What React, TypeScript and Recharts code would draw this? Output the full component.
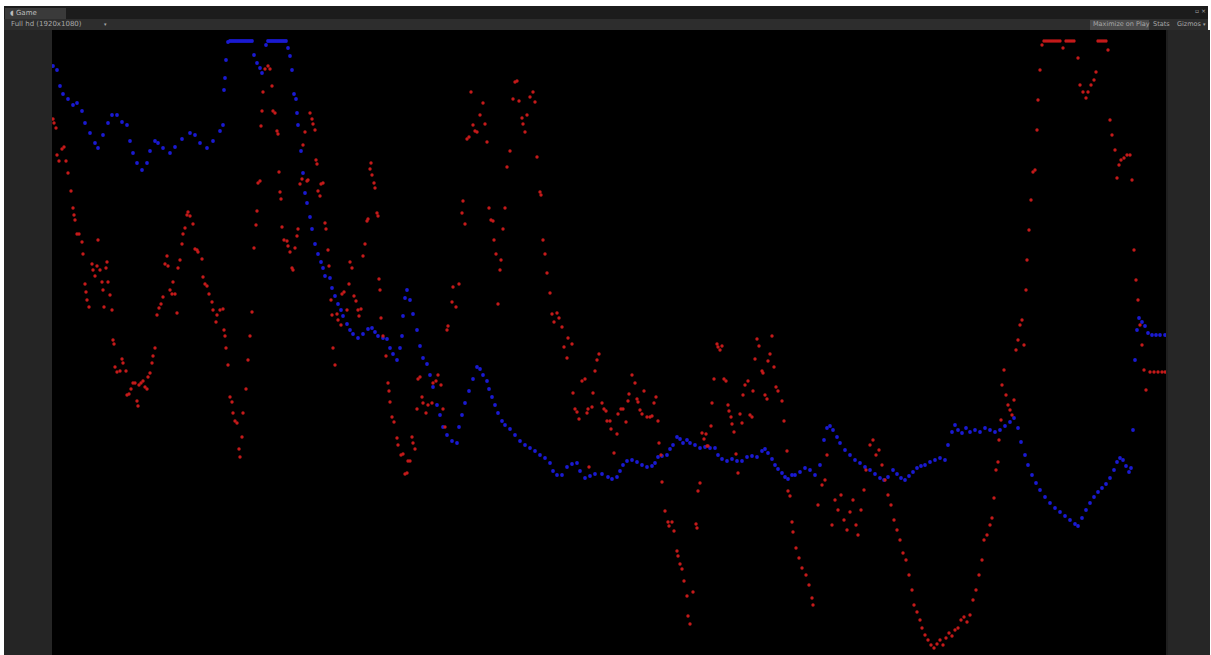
import { ScatterChart, Scatter, XAxis, YAxis } from 'recharts'

// frame index along the capture, value = height of the sample (0 = bottom of view)
const blueFrames = [
  1, 5, 8, 11, 16, 21, 25, 30, 33, 38, 43, 46, 51, 56, 60, 65, 70, 75, 78, 81,
  85, 90, 95, 98, 103, 106, 111, 118, 123, 130, 138, 143, 148, 155, 161, 168, 171, 172, 173, 174,
  176, 178, 180, 182, 184, 186, 188, 190, 192, 194, 196, 198, 200, 202, 205, 208, 210, 214, 216, 218,
  220, 222, 224, 226, 228, 230, 232, 234, 236, 238,
  240, 242, 244, 245, 246, 249, 251, 253, 255, 258, 260, 263, 266, 269, 271, 273, 278, 280, 283, 286,
  289, 291, 295, 298, 301, 306, 311, 316, 320, 323, 326, 331, 335, 338, 341, 345, 348, 350, 351, 353,
  355, 358, 361, 365, 368, 371, 375, 378, 381, 385, 388, 391, 395, 400, 405, 407, 410, 413, 417, 421,
  425, 428, 431, 435, 437, 440, 443, 446, 450, 453, 458, 463, 468, 473, 478, 483, 488, 493, 498, 501,
  505, 510, 515, 520, 525, 528, 533, 538, 543, 550, 556, 560, 565, 568, 571, 575, 580, 585, 590, 595,
  600, 603, 606, 610, 615, 618, 621, 625, 628, 631, 635, 638, 643, 648, 653, 658, 663, 666, 670, 675,
  680, 685, 690, 695, 700, 705, 710, 713, 716, 720, 723, 726, 730, 733, 736, 740, 743, 748, 753, 758,
  763, 768, 772, 775, 778, 781, 785, 788, 793, 798, 803, 808, 813, 818, 823, 828, 832, 836, 841, 845,
  849, 853, 857, 861, 865, 869, 873, 878, 883, 888, 893, 896, 900, 903, 906, 910, 914, 918, 923, 928,
  933, 938, 943, 948, 953, 958, 962, 966, 969, 973, 976, 980, 984, 988, 993, 998, 1003, 1008, 1013, 1018,
  1023, 1026, 1030, 1034, 1038, 1042, 1046, 1050, 1054, 1058, 1062, 1065, 1068, 1071, 1074, 1077, 1079, 1081, 1083, 1085,
  1087, 1090, 1093, 1096, 1100, 1104, 1108, 1113,
]
const blueValues = [
  589, 585, 569, 561, 556, 550, 552, 544, 532, 522, 512, 507, 520, 532, 540, 540, 533, 530, 514, 502,
  492, 485, 492, 504, 514, 512, 507, 502, 508, 516, 522, 520, 512, 507, 514, 524, 530, 565, 577, 595,
  613, 614, 614, 614, 614, 614, 614, 614, 614, 614, 614, 614, 614, 600, 592, 587, 582, 610, 614, 614,
  614, 614, 614, 614, 614, 614, 614, 614, 607, 599,
  585, 561, 556, 542, 530, 504, 482, 462, 452, 438, 426, 411, 401, 393, 387, 379, 377, 367, 359, 351,
  345, 339, 331, 325, 321, 317, 321, 326, 327, 323, 319, 317, 316, 307, 301, 295, 307, 319, 339, 357,
  365, 355, 341, 325, 309, 297, 291, 280, 268, 250, 240, 228, 220, 214, 212, 228, 240, 252, 264, 276,
  288, 286, 280, 274, 266, 258, 250, 242, 234, 230, 226, 220, 214, 210, 207, 204, 200, 197, 192, 184,
  180, 180, 188, 191, 192, 184, 177, 179, 181, 181, 178, 176, 178, 184, 190, 194, 195, 193, 190, 188,
  189, 192, 198, 199, 200, 206, 210, 218, 216, 212, 215, 212, 210, 207, 208, 207, 207, 200, 196, 194,
  196, 194, 194, 198, 199, 198, 204, 206, 202, 196, 190, 186, 182, 178, 176, 180, 180, 183, 187, 185,
  180, 190, 215, 227, 229, 225, 218, 212, 205, 200, 195, 192, 188, 185, 181, 177, 175, 178, 185, 181,
  177, 175, 179, 183, 187, 189, 190, 193, 195, 197, 195, 210, 223, 230, 225, 222, 227, 223, 225, 223,
  227, 225, 223, 225, 229, 233, 237, 227, 213, 200, 190, 180, 172, 165, 158, 152, 147, 143, 139, 135,
  131, 129, 137, 145, 152, 158, 163, 167, 171, 177, 185, 193, 197, 195, 189, 183, 187, 225, 295, 325,
  337, 333, 329, 322, 320, 320, 320, 320,
]

const redFrames = [
  1, 2, 4, 5, 7, 10, 12, 14, 16, 19, 21, 22, 23, 25, 27, 30, 31, 33, 34, 35,
  37, 40, 41, 43, 45, 46, 48, 50, 51, 52, 54, 55, 56, 58, 60, 61, 62, 63, 65, 68,
  70, 71, 74, 75, 77, 79, 81, 83, 85, 86, 87, 89, 91, 93, 95, 96, 98, 100, 101, 103,
  105, 107, 109, 111, 113, 115, 116, 118, 120, 121, 123, 125, 126, 128, 130, 131, 133, 135, 136, 138,
  141, 143, 145, 146, 150, 151, 153, 155, 157, 160, 161, 164, 165, 168, 171, 172, 173, 174, 176, 178,
  180, 181, 183, 185, 187, 188, 190, 191, 194, 196, 198, 200, 202, 204, 205, 206, 208, 209, 210, 211,
  213, 216, 218, 220, 221, 223, 225, 226, 227, 228, 229, 230, 232, 235, 236, 238, 240, 241, 243, 245,
  246, 248, 250, 251, 253, 255, 256, 258, 260, 261, 263, 264, 265, 266, 268, 269, 271, 273, 274, 276,
  277, 279, 280, 281, 283, 285, 286, 289, 290, 292, 295, 297, 298, 300, 302, 304, 306, 307, 309, 311,
  313, 315, 316, 318, 319, 320, 322, 323, 325, 326, 327, 328, 329, 331, 334, 336, 337, 338, 340, 342,
  345, 346, 349, 351, 353, 355, 356, 358, 360, 361, 363, 365, 366, 368, 370, 371, 374, 376, 380, 381,
  384, 386, 389, 391, 393, 395, 396, 400, 401, 404, 407, 410, 411, 413, 415, 417, 419, 421, 423, 425,
  428, 431, 433, 435, 437, 439, 441, 442, 444, 446, 448, 449, 451, 453, 455, 458, 461, 463, 465, 467,
  470, 471, 473, 475, 478, 481, 483, 485, 488, 489, 491, 493, 495, 498, 500, 502, 505, 507, 510, 512,
  515, 516, 520, 521, 523, 525, 527, 530, 533, 535, 536, 537, 540, 541, 543, 545, 547, 550, 552, 554,
  555, 558, 559, 562, 565, 566, 569, 571, 574, 576, 577, 580, 583, 585, 586, 588, 590, 592, 595, 598,
  600, 602, 604, 606, 607, 609, 610, 613, 616, 617, 620, 622, 625, 626, 628, 630, 632, 635, 636, 638,
  641, 644, 645, 646, 648, 650, 652, 654, 655, 656, 659, 660, 662, 665, 666, 668, 670, 672, 674, 676,
  677, 679, 680, 682, 684, 686, 688, 690, 691, 693, 696, 698, 700, 701, 703, 705, 707, 710, 711, 713,
  715, 716, 718, 720, 722, 724, 726, 730, 732, 735, 736, 738, 740, 741, 744, 747, 750, 754, 757, 760,
  761, 766, 770, 773, 775, 780, 783, 786, 789, 792, 795, 798, 801, 804, 806, 809, 812, 814, 818, 821,
  824, 827, 830, 833, 836, 839, 842, 845, 848, 851, 854, 857, 860, 862, 865, 868, 870, 873, 876, 879,
  882, 885, 888, 891, 894, 897, 900, 903, 906, 909, 912, 915, 918, 921, 924, 927, 930, 932, 935, 938,
  940, 942, 944, 946, 947, 949, 950, 952, 954, 956, 958, 960, 962, 964, 966, 968, 970, 972, 974, 975,
  977, 979, 981, 983, 985, 986, 988, 990, 992, 994, 996, 998, 1000, 1002, 1004, 1006, 1008, 1011, 1014, 1016,
  1018, 1020, 1022, 1026, 1028, 1031,
  1034, 1036, 1039, 1042, 1044, 1046, 1048, 1050, 1052, 1054, 1056, 1058, 1060, 1063, 1065, 1067, 1069, 1072, 1075, 1078,
  1080, 1082, 1084, 1086, 1088, 1090, 1092, 1094, 1098, 1102, 1106, 1110, 1113,
]
const redValues = [
  536, 532, 527, 500, 494, 506, 508, 494, 482, 464, 447, 440, 435, 421, 421, 413, 401, 371, 363, 355,
  348, 391, 385, 379, 389, 415, 385, 373, 365, 348, 387, 393, 373, 360, 345, 315, 311, 288, 283, 284,
  296, 292, 284, 260, 261, 266, 272, 272, 254, 249, 270, 272, 274, 268, 266, 278, 282, 292, 299, 307,
  340, 347, 351, 358, 391, 399, 389, 365, 361, 373, 361, 342, 387, 395, 411, 421, 427, 440, 443, 439,
  431, 406, 405, 403, 396, 378, 371, 369, 361, 353, 345, 333, 340, 345, 346, 325, 319, 307, 290, 258,
  253, 242, 234, 232, 206, 198, 218, 242, 266, 295, 319, 343, 407, 430, 444, 472, 474, 529, 544, 563,
  586, 589, 586, 569, 544, 542, 524, 521, 483, 463, 456, 428, 415, 414, 409, 403, 387, 385, 407, 419,
  426, 471, 476, 510, 523, 474, 475, 542, 536, 531, 525, 495, 491, 464, 459, 471, 472, 432, 426, 405,
  389, 355, 340, 307, 290, 341, 335, 330, 361, 363, 345, 371, 393, 387, 359, 354, 345, 339, 346, 399,
  411, 434, 436, 486, 492, 480, 472, 467, 442, 439, 376, 365, 337, 319, 299, 272, 264, 253, 238, 233,
  217, 210, 200, 201, 181, 182, 194, 194, 218, 212, 206, 246, 276, 278, 258, 252, 242, 250, 252, 272,
  274, 280, 270, 246, 228, 325, 329, 353, 368, 348, 371, 442, 454, 431, 516, 518, 563, 530, 524, 523,
  540, 552, 531, 513, 447, 435, 434, 415, 401, 351, 385, 395, 426, 447, 488, 504, 556, 573, 574, 554,
  537, 531, 523, 540, 558, 563, 553, 498, 463, 460, 415, 401, 382, 362, 341, 333, 342, 337, 328, 308,
  297, 317, 311, 262, 246, 243, 236, 274, 276, 242, 246, 188, 248, 262, 284, 295, 301, 252, 246, 244,
  234, 234, 226, 202, 221, 241, 246, 246, 233, 254, 261, 280, 272, 256, 253, 245, 241, 264, 238, 238,
  239, 252, 258, 234, 212, 200, 173, 144, 133, 129, 133, 124, 104, 99, 91, 86, 74, 59, 39, 31,
  63, 131, 127, 164, 172, 222, 216, 221, 209, 209, 229, 252, 276, 311, 308, 305, 309, 276, 274, 250,
  244, 238, 231, 223, 201, 182, 241, 232, 260, 270, 274, 240, 238, 264, 296, 316, 309, 284, 282, 260,
  256, 294, 301, 319, 288, 268, 264, 254, 234, 204, 164, 159, 133, 123, 107, 97, 87, 80, 70, 57,
  50, 150, 170, 175, 200, 130, 155, 145, 160, 135, 125, 143, 155, 130, 120, 145, 165, 185, 210, 215,
  200, 205, 190, 175, 160, 150, 135, 125, 115, 102, 95, 80, 65, 50, 43, 35, 27, 20, 15, 10,
  7, 11, 15, 10, 17, 22, 19, 25, 27, 35, 38, 33, 40, 55, 65, 80, 95, 115, 120, 130,
  137, 157, 185, 193, 215, 235, 270, 285, 260, 250, 245, 240, 255, 305, 315, 330, 335, 310, 365, 395,
  425, 455, 483, 485, 525, 555, 585, 610, 614, 614, 614, 614, 614, 614, 614, 614, 614, 607, 614, 614,
  614, 614, 614, 597, 570, 563,
  557, 563, 570, 575, 583, 614, 614, 614, 614, 614, 605, 535, 520, 505, 477, 490, 495, 497, 500, 500,
  475, 405, 375, 355, 330, 310, 285, 265, 283, 283, 283, 283, 283,
]

const blueData = blueFrames.map((frame, i) => ({ frame, value: blueValues[i] }))
const redData = redFrames.map((frame, i) => ({ frame, value: redValues[i] }))

const BLUE = '#1a1ad2'
const RED = '#c41a1a'

const dot = (color: string, r: number) => (props: any) => (
  <circle cx={props.cx} cy={props.cy} r={r} fill={color} />
)

const label = { position: 'absolute' as const, fontFamily: 'DejaVu Sans, sans-serif', fontSize: 7, color: '#a8a8a8', lineHeight: '11px' }

export default function App() {
  return (
    <div style={{ position: 'absolute', left: 0, top: 0, width: 1211, height: 655, background: '#ffffff', overflow: 'hidden' }}>
      <style>{'body{margin:0}'}</style>
      {/* editor window */}
      <div style={{ position: 'absolute', left: 4, top: 6, width: 1204, height: 649, background: '#232323' }} />
      {/* tab strip */}
      <div style={{ position: 'absolute', left: 4, top: 6, width: 1204, height: 13, background: '#1c1c1c' }} />
      <div style={{ position: 'absolute', left: 5, top: 8, width: 61, height: 11, background: '#3a3a3a' }} />
      <div style={{ ...label, left: 10, top: 8, color: '#bdbdbd' }}>◖ Game</div>
      {/* toolbar */}
      <div style={{ position: 'absolute', left: 4, top: 19, width: 1204, height: 11, background: '#2d2d2d' }} />
      <div style={{ ...label, left: 11, top: 19 }}>Full hd (1920x1080)</div>
      <div style={{ ...label, left: 104, top: 19, fontSize: 5 }}>▾</div>
      <div style={{ position: 'absolute', left: 1090, top: 20, width: 59, height: 10, background: '#4a4a4a' }} />
      <div style={{ ...label, left: 1093, top: 19, fontSize: 6.5 }}>Maximize on Play</div>
      <div style={{ ...label, left: 1153, top: 19, fontSize: 6.5 }}>Stats</div>
      <div style={{ ...label, left: 1177, top: 19, fontSize: 6.5 }}>Gizmos</div>
      <div style={{ ...label, left: 1203, top: 19, fontSize: 5 }}>▾</div>
      <div style={{ ...label, left: 1195, top: 5, fontSize: 6 }}>▫ ×</div>
      {/* side gutters */}
      <div style={{ position: 'absolute', left: 4, top: 30, width: 48, height: 625, background: '#252525' }} />
      <div style={{ position: 'absolute', left: 1166, top: 30, width: 42, height: 625, background: '#262626', borderLeft: '2px solid #1f1f1f' }} />
      {/* game view */}
      <div style={{ position: 'absolute', left: 52, top: 30, width: 1114, height: 625, background: '#000000' }}>
        <ScatterChart width={1114} height={625} margin={{ top: 0, right: 0, bottom: 0, left: 0 }}>
          <XAxis type="number" dataKey="frame" domain={[0, 1114]} hide />
          <YAxis type="number" dataKey="value" domain={[0, 625]} hide />
          <Scatter data={blueData} fill={BLUE} shape={dot(BLUE, 1.9)} isAnimationActive={false} />
          <Scatter data={redData} fill={RED} shape={dot(RED, 1.7)} isAnimationActive={false} />
        </ScatterChart>
      </div>
    </div>
  )
}
